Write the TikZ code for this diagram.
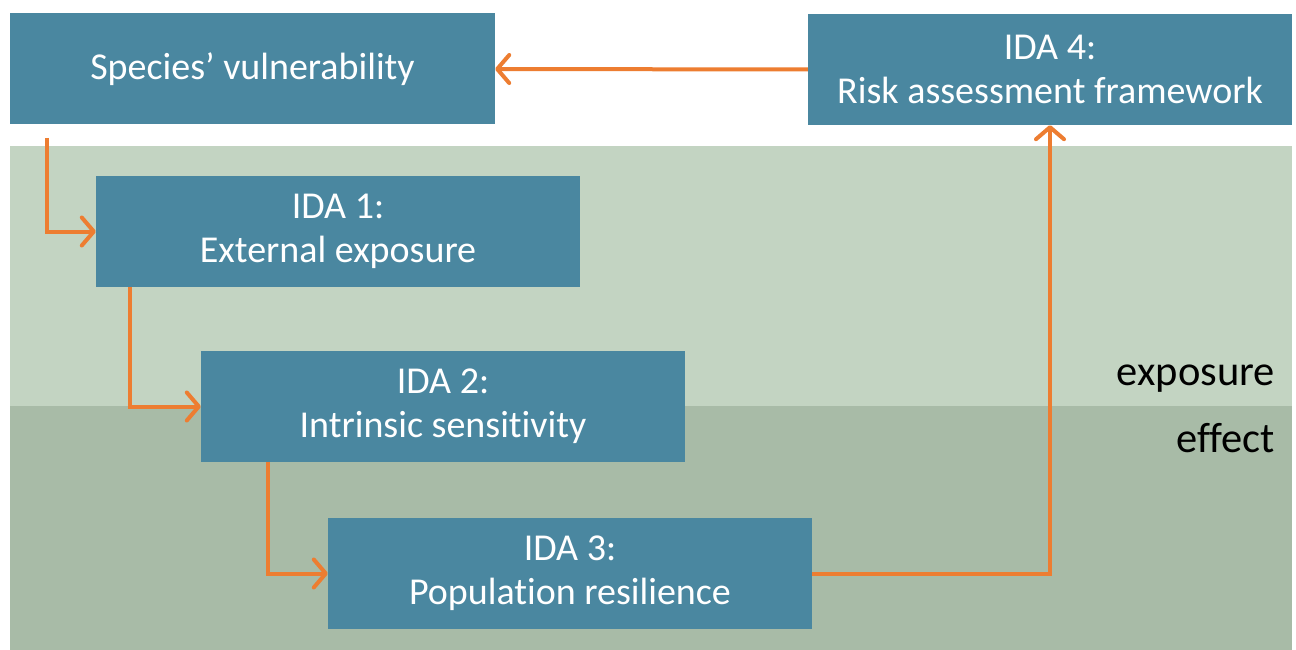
\documentclass[tikz,border=0pt]{standalone}
\usepackage{fontspec}
\setmainfont[Ligatures=NoCommon]{Carlito}
\usetikzlibrary{arrows.meta}
\definecolor{boxblue}{HTML}{4A87A0}
\definecolor{lightgreen}{HTML}{C3D4C2}
\definecolor{darkgreen}{HTML}{A8BBA7}
\definecolor{arrorange}{HTML}{ED7D31}
\tikzset{
  idabox/.style={fill=boxblue, draw=none, minimum width=484pt, minimum height=111pt, text=white, align=center, inner sep=0pt, font=\fontsize{38}{44}\selectfont},
  flow/.style={draw=arrorange, line width=4pt, -{Straight Barb[length=12pt,width=28pt,round]}},
  bandlabel/.style={anchor=base east, inner sep=0pt, font=\fontsize{42.5}{48}\selectfont}
}
\begin{document}
\begin{tikzpicture}[x=1pt,y=-1pt]
\useasboundingbox (0,0) rectangle (1296,650);
\fill[white] (0,0) rectangle (1296,650);
\fill[lightgreen] (10,146) rectangle (1292,406);
\fill[darkgreen] (10,406) rectangle (1292,650);
\node[idabox, minimum width=485pt] (species) at (252.5,69) {Species’ vulnerability};
\node[idabox] (ida4) at (1050,69.5) {IDA 4:\\Risk assessment framework};
\node[idabox] (ida1) at (338,231.5) {IDA 1:\\External exposure};
\node[idabox] (ida2) at (443,406.5) {IDA 2:\\Intrinsic sensitivity};
\node[idabox] (ida3) at (570,573.5) {IDA 3:\\Population resilience};
\node[bandlabel] (lexp) at (1275,385) {exposure};
\node[bandlabel] (leff) at (1275,452) {effect};
\coordinate (s1) at (47,138);
\draw[flow] (s1) |- (ida1.west);
\draw[flow] ([xshift=34pt]ida1.south west) |- (ida2.west);
\draw[flow] ([xshift=67pt]ida2.south west) |- (ida3.west);
\draw[flow] (ida3.east) -| (ida4.south);
\draw[flow] (ida4.west) -- (species.east);
\end{tikzpicture}
\end{document}
